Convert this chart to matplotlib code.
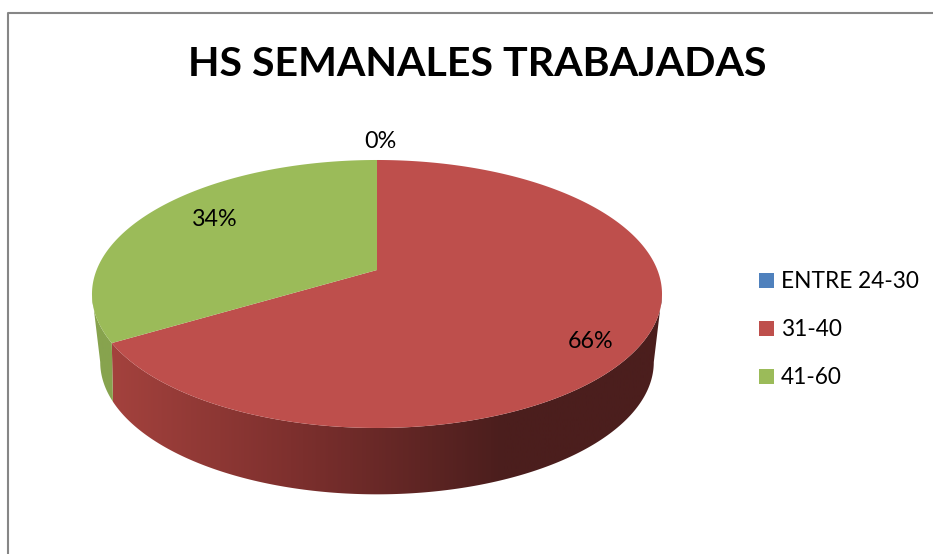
"""
plot.py - 3D style pie of weekly hours worked, drawn in pixel coordinates
"""
import matplotlib
matplotlib.use("Agg")
import matplotlib.pyplot as plt
import numpy as np
from matplotlib.colors import LinearSegmentedColormap
from matplotlib.patches import Polygon, Rectangle

title = "HS SEMANALES TRABAJADAS"
categories = ["ENTRE 24-30", "31-40", "41-60"]
values = [0.0, 66.45, 33.55]
colors = ["#4F81BD", "#BE4F4C", "#9BBB59"]
label_xy = [(380, 142), (591, 341), (215, 220)]

plt.rcParams["font.family"] = ["Lato", "DejaVu Sans"]

fig = plt.figure(figsize=(9.33, 5.54), dpi=100)
ax = fig.add_axes([0, 0, 1, 1])
ax.set_xlim(0, 933)
ax.set_ylim(554, 0)
ax.axis("off")

# chart frame, only top and left are in the crop
ax.plot([8, 8, 933], [554, 12.5, 12.5], color="#868686", lw=1.5)


def top_face(theta):
    u, v = np.sin(theta), -np.cos(theta)
    w = 1 - 0.179 * v
    return 377 + 280.4 * u / w, 270 + 129.7 * v / w


def bottom_face(theta):
    u, v = np.sin(theta), -np.cos(theta)
    w = 1 - 0.25 * v
    return 377 + 268 * u / w, 329 + 124 * v / w


edges = np.cumsum([0] + values) / sum(values) * 2 * np.pi

# side walls first, each face has its own tangent angles for the silhouette
wall_cmaps = [
    None,
    LinearSegmentedColormap.from_list("red", [(0, "#A8443F"), (0.35, "#7E302E"), (0.72, "#4B1E1D"), (1, "#4B1E1D")]),
    LinearSegmentedColormap.from_list("green", ["#87A34E", "#87A34E"]),
]
top_lim = np.radians([100.3, 259.7])
bot_lim = np.radians([104.5, 255.5])
for i in range(len(values)):
    if values[i] == 0:
        continue
    a, b = np.clip(edges[i:i + 2], *top_lim)
    c, d = np.clip(edges[i:i + 2], *bot_lim)
    xt, yt = top_face(np.linspace(a, b, 200))
    xb, yb = bottom_face(np.linspace(c, d, 200))
    poly = Polygon(np.r_[np.c_[xt, yt], np.c_[xb, yb][::-1]], closed=True, fc="none", ec="none")
    ax.add_patch(poly)
    img = ax.imshow(np.linspace(0, 1, 256)[None, :], cmap=wall_cmaps[i], aspect="auto",
                    extent=(90, 664, 554, 0), zorder=1)
    img.set_clip_path(poly)
ax.set_xlim(0, 933)
ax.set_ylim(554, 0)

# top face slices
for i in range(len(values)):
    if values[i] == 0:
        continue
    t = np.linspace(edges[i], edges[i + 1], 300)
    xt, yt = top_face(t)
    pts = np.r_[[[377, 270]], np.c_[xt, yt]]
    ax.add_patch(Polygon(pts, closed=True, fc=colors[i], ec="none", zorder=2))

for val, (x, y) in zip(values, label_xy):
    ax.text(x, y, f"{round(val)}%", fontsize=16.8, color="black", ha="center", va="center", zorder=3)

ax.text(477, 65, title, fontsize=29.6, fontweight="bold", color="black", ha="center", va="center")

# legend
for i, name in enumerate(categories):
    yc = 280 + i * 48
    ax.add_patch(Rectangle((759, yc - 7.5), 15, 15, fc=colors[i], ec="none"))
    ax.text(781, yc + 1.5, name, fontsize=16.3, color="black", ha="left", va="center")

fig.savefig("out.png", dpi=100)
